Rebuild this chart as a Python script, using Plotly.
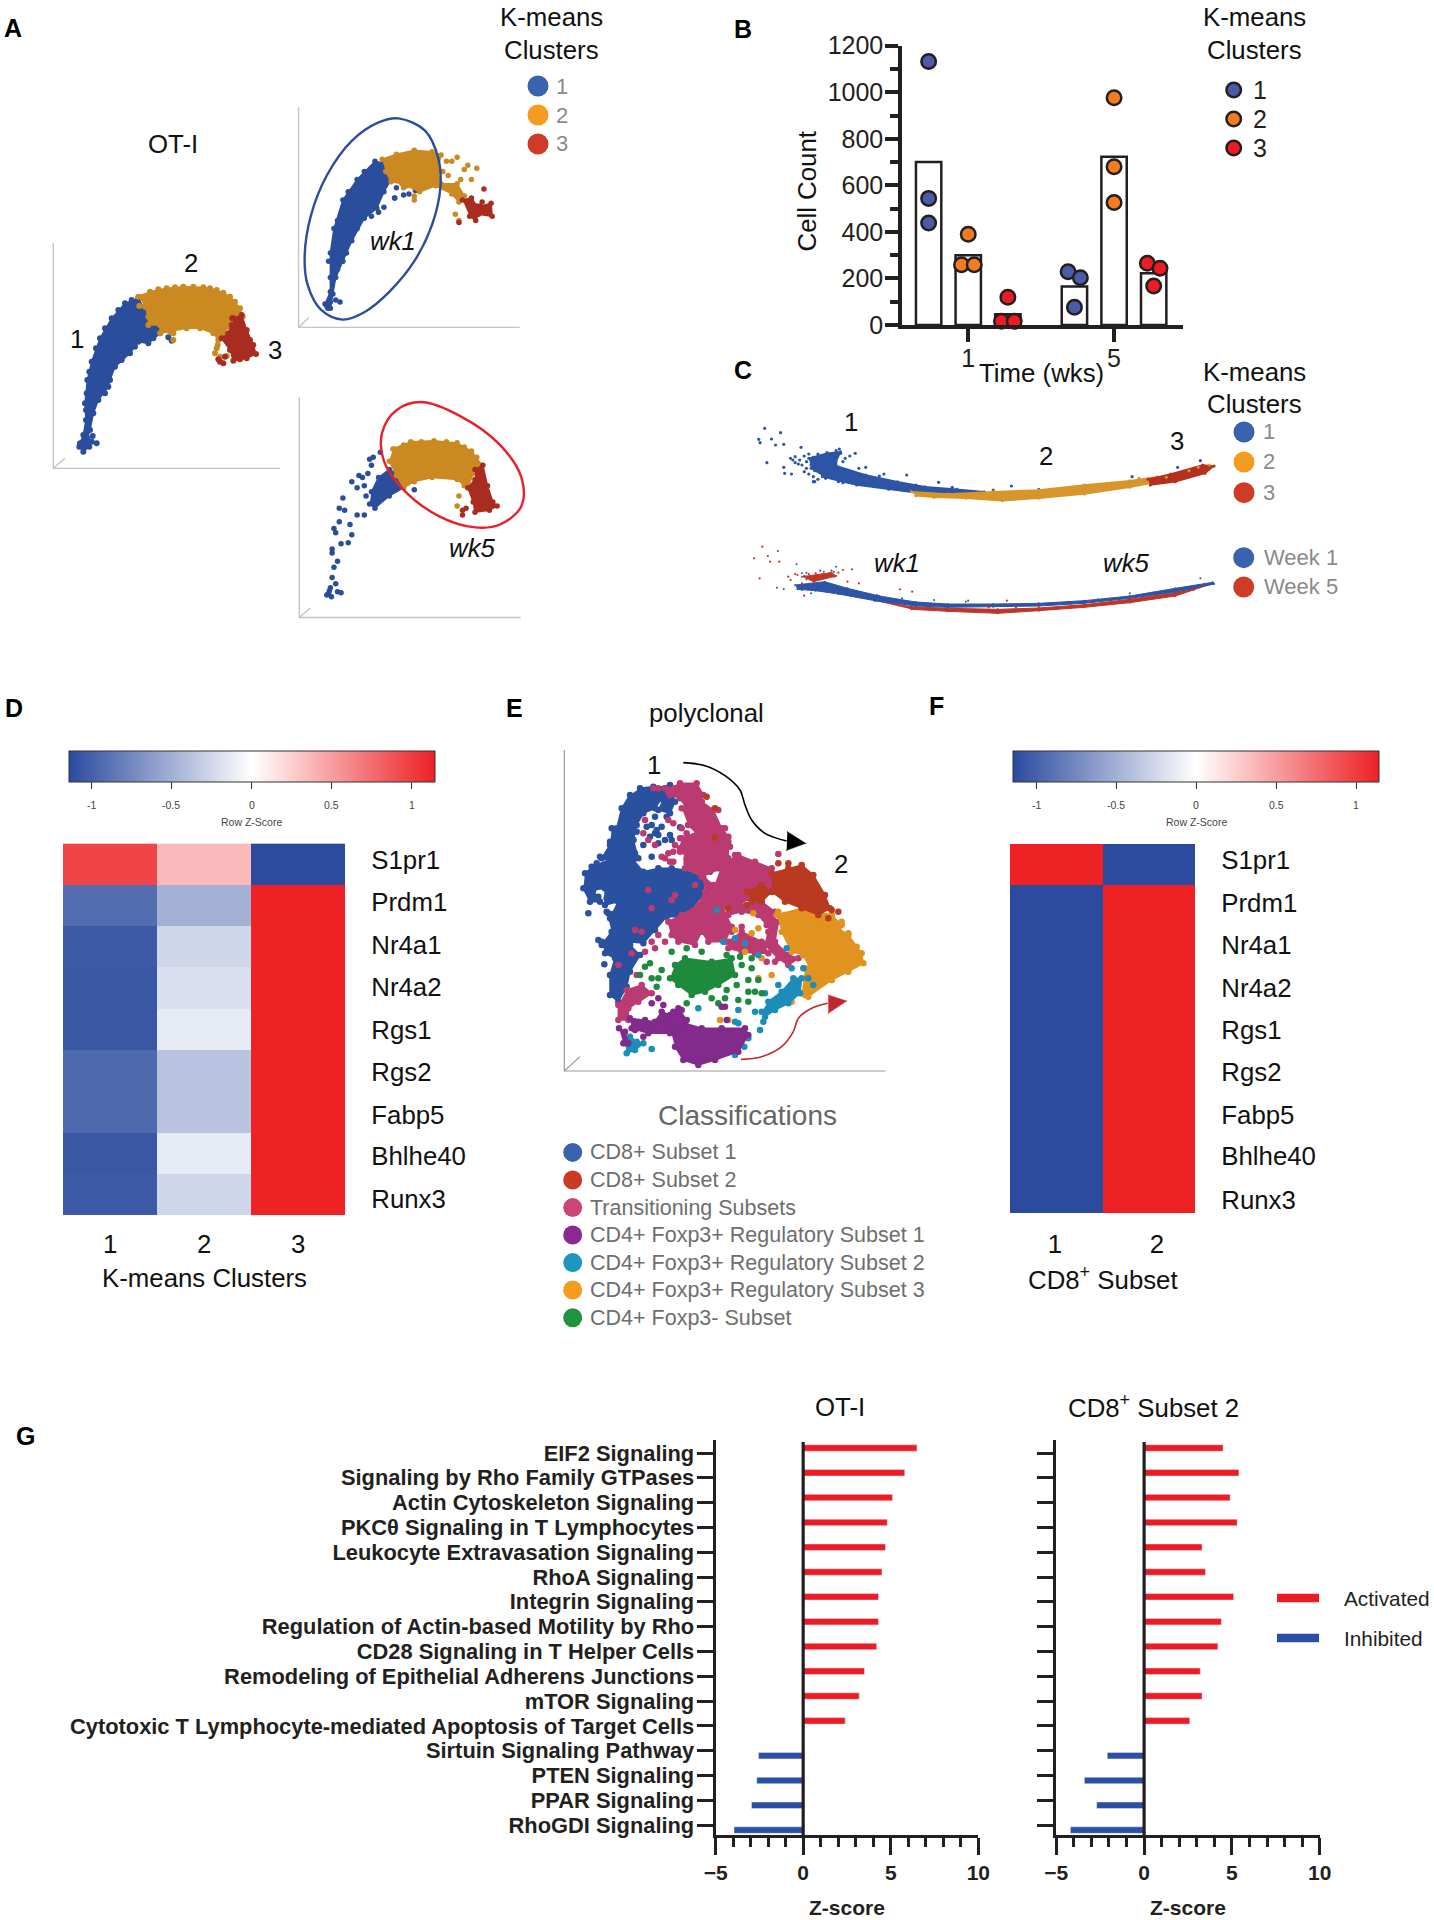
import plotly.graph_objects as go

W, H = 1434, 1920
FONT = "Liberation Sans"
INK = "#231F20"

# ---------- data: bar chart B ----------
B_BAR_X = [1, 2, 3, 4.68, 5.68, 6.68]
B_BAR_VAL = [700, 300, 46, 165, 723, 222]
B_C1_X = [1, 1, 1, 4.52, 4.83, 4.68]
B_C1_Y = [1132, 544, 438, 229, 203, 76]
B_C2_X = [2, 1.83, 2.15, 5.68, 5.68, 5.68]
B_C2_Y = [390, 259, 259, 976, 680, 526]
B_C3_X = [3, 2.84, 3.16, 6.52, 6.84, 6.68]
B_C3_Y = [119, 16, 16, 265, 244, 168]
B_TICK_POS = [2, 5.68]
B_TICK_TXT = ["1", "5"]

# ---------- data: heatmaps ----------
GENES = ["S1pr1", "Prdm1", "Nr4a1", "Nr4a2", "Rgs1", "Rgs2", "Fabp5", "Bhlhe40", "Runx3"]
D_LABEL_POS = [-0.10, 0.93, 1.96, 2.98, 4.01, 5.04, 6.07, 7.07, 8.10]
F_LABEL_POS = [-0.11, 0.93, 1.96, 3.00, 4.04, 5.07, 6.11, 7.12, 8.18]
D_COLS = [1, 2, 3]
D_COL_LABEL_POS = [1, 2, 3]
F_COLS = [1, 2]
F_COL_LABEL_POS = [0.986, 2.087]
D_Z = [[0.96, 0.36, -1.14],
       [-0.92, -0.49, 1.14],
       [-1.04, -0.26, 1.14],
       [-1.06, -0.205, 1.14],
       [-1.06, -0.135, 1.14],
       [-0.95, -0.38, 1.14],
       [-0.95, -0.38, 1.14],
       [-1.06, -0.135, 1.14],
       [-1.04, -0.26, 1.14]]
F_Z = [[1.14, -1.14]] + [[-1.14, 1.14] for _ in range(8)]
CB_TICKS = [-1, -0.5, 0, 0.5, 1]
CB_TEXT = ["-1", "-0.5", "0", "0.5", "1"]

# ---------- data: pathway bars G ----------
PATHWAYS = ["EIF2 Signaling", "Signaling by Rho Family GTPases", "Actin Cytoskeleton Signaling",
            "PKCθ Signaling in T Lymphocytes", "Leukocyte Extravasation Signaling", "RhoA Signaling",
            "Integrin Signaling", "Regulation of Actin-based Motility by Rho",
            "CD28 Signaling in T Helper Cells", "Remodeling of Epithelial Adherens Junctions",
            "mTOR Signaling", "Cytotoxic T Lymphocyte-mediated Apoptosis of Target Cells",
            "Sirtuin Signaling Pathway", "PTEN Signaling", "PPAR Signaling", "RhoGDI Signaling"]
OTI_ACT = [6.5, 5.8, 5.1, 4.8, 4.7, 4.5, 4.3, 4.3, 4.2, 3.5, 3.2, 2.4, None, None, None, None]
OTI_INH = [None] * 12 + [-2.55, -2.65, -2.95, -3.95]
CD8_ACT = [4.5, 5.4, 4.9, 5.3, 3.3, 3.5, 5.1, 4.4, 4.2, 3.2, 3.3, 2.6, None, None, None, None]
CD8_INH = [None] * 12 + [-2.1, -3.4, -2.7, -4.2]

# ---------- data: embedding A main (arbitrary embedding units) ----------
M_AXES = [[(10,40),(10,715),(690,715)], [(10,715),(45,685)]]
M_C1 = [(90,640),(100,615),(108,570),(105,520),(112,450),(125,395),(150,325),(185,265),(225,220),(265,205),(285,240),(295,265),(295,285),(330,285),(330,310),(295,340),(265,335),(240,370),(195,410),(180,450),(175,470),(145,510),(130,550),(120,600),(112,625),(118,650),(100,665),(88,650)]
M_C1_DOTS = [(128,618),(125,635),(140,640),(355,322),(365,332),(372,297),(310,325),(108,540),(110,490),(118,425),(138,355),(165,295),(205,240),(245,210),(165,490),(215,390),(255,350)]
M_C2 = [(265,200),(300,185),(350,175),(400,170),(460,172),(500,180),(540,200),(570,235),(578,260),(550,265),(535,290),(520,310),(505,330),(490,310),(450,295),(410,295),(360,305),(330,310),(330,285),(295,285),(295,260),(285,230)]
M_C2_DOTS = [(370,310),(370,330),(503,345),(495,370),(510,380),(530,378),(500,355),(278,200),(268,228),(325,178),(375,172),(430,170),(480,175),(520,188),(555,215)]
M_C3 = [(550,265),(575,255),(590,300),(610,345),(618,372),(590,385),(550,392),(540,360),(515,325),(535,310),(545,285)]
M_C3_DOTS = [(510,395),(520,400),(525,380),(505,388),(547,265),(600,330),(570,388)]

# ---------- data: embedding A, week panels ----------
A_AXES = [[(836, 263), (836, 802), (1455, 802)], [(836, 802), (865, 778)],
          [(838, 973), (838, 1513), (1458, 1513)], [(838, 1513), (868, 1490)]]
A2_RING = [(1115,290),(1190,320),(1228,390),(1233,460),(1210,550),(1160,640),(1090,715),(1020,765),(960,783),(900,760),(862,700),(853,630),(870,530),(915,430),(985,345),(1060,300),(1115,290)]
A2_C1 = [(918,755),(910,745),(925,715),(925,680),(925,620),(935,560),(960,490),(1000,440),(1050,395),(1075,400),(1095,440),(1075,470),(1055,510),(1020,535),(985,590),(960,640),(940,680),(932,720),(925,755)]
A2_C1_DOTS = [(940,735),(952,740),(1105,485),(1130,478),(1145,475),(1075,508),(1110,460),(1163,467),(1060,520),(915,750),(925,740),(1105,485),(1040,530),(1000,560),(970,620),(945,660),(920,640),(945,540),(975,470),(1020,420)]
A2_C2 = [(1070,390),(1110,378),(1160,368),(1210,372),(1235,380),(1225,420),(1235,450),(1280,450),(1300,480),(1285,495),(1265,475),(1220,455),(1175,470),(1125,450),(1095,445),(1080,420)]
A2_C2_DOTS = [(1250,395),(1265,395),(1280,385),(1310,405),(1335,412),(1300,415),(1320,440),(1275,525),(1285,540),(1160,490),(1140,455),(1240,420),(1255,430),(1290,440),(1205,440),(1185,455),(1130,460),(1160,480)]
A2_C3 = [(1295,490),(1320,485),(1335,505),(1345,505),(1375,498),(1378,530),(1340,525),(1332,540),(1315,530)]
A2_C3_DOTS = [(1355,463),(1285,545),(1350,495),(1370,515)]
A3_RING = [(1180,985),(1290,1020),(1400,1090),(1460,1170),(1460,1240),(1400,1285),(1330,1292),(1230,1265),(1130,1200),(1075,1130),(1070,1060),(1110,1005),(1180,985)]
A3_C1 = [(1040,1205),(1060,1170),(1090,1150),(1130,1170),(1130,1195),(1090,1215),(1050,1245),(1035,1235)]
A3_C1_DOTS = [(1035,1125),(1045,1120),(1040,1140),(1065,1108),(1005,1165),(985,1180),(1020,1190),(1025,1215),(960,1220),(950,1245),(965,1250),(1000,1262),(1020,1262),(980,1285),(950,1278),(935,1295),(940,1305),(985,1310),(975,1330),(955,1332),(930,1345),(930,1355),(945,1375),(935,1390),(930,1415),(925,1440),(920,1455),(945,1450),(955,1452),(940,1430),(915,1458),(922,1448),(928,1462),(1160,1200),(1015,1170),(1030,1160),(1000,1195)]
A3_C2 = [(1100,1100),(1150,1082),(1215,1080),(1280,1085),(1320,1105),(1350,1140),(1350,1165),(1325,1160),(1310,1195),(1280,1175),(1210,1170),(1160,1180),(1130,1195),(1110,1165),(1090,1130)]
A3_C2_DOTS = [(1105,1100),(1285,1215),(1280,1240),(1100,1125),(1300,1190),(1130,1090),(1180,1082),(1250,1082),(1300,1095),(1335,1120)]
A3_C3 = [(1330,1150),(1352,1140),(1365,1190),(1380,1230),(1392,1240),(1370,1250),(1330,1255),(1325,1230),(1310,1195),(1330,1175)]
A3_C3_DOTS = [(1295,1250),(1305,1245),(1295,1262)]

# ---------- data: embedding C ----------
C1_HEAD = [(195,325),(235,310),(265,305),(255,335),(260,375),(225,375),(200,355)]
C1_C1 = [(250,345),(320,375),(390,395),(450,410),(520,418),(580,425),(560,432),(500,435),(430,428),(370,418),(300,405),(260,392),(225,380),(215,345)]
C1_C1_DOTS = [(98,235),(133,248),(85,268),(113,267),(122,285),(140,283),(88,278),(103,338),(178,292),(140,352),(157,372),(142,370),(208,395),(320,352),(305,355),(410,375),(480,397),(360,372),(1005,352),(1055,332),(1040,355),(905,380),(640,408),(700,418),(600,420),
              (155,325),(165,320),(175,330),(185,318),(195,312),(205,322),(215,312),(225,318),(235,308),(245,315),(255,302),(265,310),(262,297),(285,318),(297,310),(275,325),(165,338),(180,345),(190,335),(200,345),(210,335),(225,330),(240,330),(255,325),(185,365),(195,372),(205,380),(215,388),(190,355),(208,362),(240,342),(270,335),(232,385),(260,395),(205,395),(350,378),(430,405),(510,412),(345,410),(270,398),(160,330),(172,342)]
C1_C2 = [(420,425),(500,432),(600,425),(700,420),(800,405),(900,392),(960,380),(975,392),(900,412),(800,432),(700,445),(620,452),(540,445),(470,442),(430,437)]
C1_C3 = [(940,388),(990,372),(1060,345),(1085,348),(1065,370),(1000,395),(945,405)]
C1_C2_DOTS = [(1030,362),(1050,352),(1075,345),(980,382),(850,400),(760,415),(680,440),(480,440),(820,425),(920,385)]
C2_RED_HEAD = [(180,680),(245,668),(255,678),(205,695)]
C2_BLUE = [(165,705),(230,695),(280,715),(350,738),(430,756),(500,762),(600,762),(700,760),(800,752),(900,738),(1000,715),(1082,697),(1085,702),(1000,726),(900,745),(800,760),(700,768),(600,770),(500,772),(430,768),(340,752),(260,732),(210,722),(170,718)]
C2_RED = [(340,752),(420,770),(500,775),(610,778),(700,774),(800,764),(900,748),(1000,728),(1083,700),(1040,720),(1000,738),(900,758),(800,772),(700,782),(610,790),(500,784),(420,778)]
C2_RED_DOTS = [(150,680),(170,675),(185,678),(210,670),(225,672),(240,670),(270,660),(290,658),(250,680),(200,690),(180,700),(155,690),(215,682),(235,680),(93,590),(127,603),(75,625),(105,618),(110,635),(130,635),(87,685),(185,737),(280,695),(305,700),(395,718),(422,725),(630,752),(545,752),(165,672),(195,672),(245,662),(260,668),(220,662),(190,688),(1010,722),(960,735),(905,742),(860,750),(810,755),(770,762),(700,768),(650,772),(590,772),(1060,705)]
C2_BLUE_DOTS = [(125,713),(140,717),(168,643),(190,668),(255,650),(1055,685),(830,748),(900,730),(540,755),(470,750),(765,755),(180,670),(228,665),(250,665),(345,735),(400,745),(170,710),(180,720),(200,730)]

# ---------- data: embedding E ----------
E_AXES = [[(28,15),(28,978),(992,978)], [(28,978),(75,935)]]
E_ARROW_BLACK = [(385,53),(450,62),(510,92),(555,135),(570,180),(590,225),(630,265),(695,288)]
E_HEAD_BLACK = [(697,260),(752,295),(695,316)]
E_ARROW_RED = [(558,943),(620,935),(680,905),(715,860),(730,820),(770,790),(818,775)]
E_HEAD_RED = [(820,750),(875,768),(820,805)]
E_BLUE_CORES = [
    [(255,130),(295,125),(320,160),(300,190),(265,205),(245,240),(235,285),(205,290),(185,250),(200,190),(225,150)],
    [(300,130),(345,120),(360,170),(345,205),(310,195),(325,165)],
    [(170,250),(235,285),(250,340),(175,350),(140,340),(165,300)],
    [(110,365),(175,340),(190,470),(150,480),(150,430)],
    [(155,500),(200,500),(225,600),(140,600),(170,560)],
    [(175,350),(235,345),(265,380),(310,370),(350,370),(390,375),(445,400),(445,450),(410,490),(370,515),(335,515),(300,555),(265,595),(225,590),(195,570),(165,520),(190,470),(175,430)],
    [(90,385),(125,355),(145,380),(150,430),(115,435),(135,470),(105,470),(85,430)],
    [(140,590),(175,575),(225,600),(255,630),(225,680),(215,725),(190,770),(165,750),(165,690),(180,640),(150,625)]]
E_BLUE_DOTS = [(100,505),(150,410),(160,340),(175,300),(135,335),(165,290),(290,240),(300,265),(330,285),(350,285),(290,335),(265,300),(215,310),(375,247),(420,333),(455,345),(490,370),(465,380),(148,658),(130,585),(160,505),(350,405),(225,310),(245,260),(305,255),(320,245),(190,320),(240,325),(410,160),(365,145),(130,455),(155,460),(300,215),(285,275),(310,270),(310,295),(345,270),(275,245),(335,215)]
E_PINK_CORES = [
    [(375,115),(425,115),(445,150),(430,180),(395,190),(375,160),(345,150),(330,130)],
    [(380,190),(440,170),(470,215),(450,280),(400,240)],
    [(400,190),(440,170),(475,195),(500,250),(520,275),(500,310),(460,320),(430,270),(400,240)],
    [(380,280),(430,260),(520,290),(520,340),(500,370),(440,395),(390,370),(395,340),(375,310)],
    [(500,360),(550,330),(600,350),(650,370),(670,400),(650,440),(610,440),(580,460),(555,480),(500,480),(475,430)],
    [(500,480),(555,480),(620,470),(660,500),(635,540),(610,510),(560,500),(520,510)],
    [(520,590),(560,560),(620,590),(640,625),(600,625),(560,620),(520,610)],
    [(440,390),(475,420),(500,480),(530,545),(510,590),(460,590),(440,560),(420,600),(370,590),(350,570),(340,530),(380,510),(430,480),(450,440)],
    [(640,500),(670,530),(660,590),(700,630),(730,640),(700,660),(670,640),(630,600),(640,560)],
    [(215,735),(260,720),(290,745),(250,770),(220,790),(220,825),(190,825),(190,780)]]
E_PINK_DOTS = [(490,195),(510,250),(525,305),(465,225),(380,250),(375,320),(395,345),(340,325),(320,335),(355,350),(265,265),(310,130),(410,285),(450,330),(480,330),(450,300),(430,300),(505,320),(540,330),(280,435),(290,490),(360,450),(260,560),(240,555),(290,590),(300,610),(230,625),(245,690),(190,660),(270,620),(330,590),(310,570),(350,465),(420,420),(430,375),(395,355),(410,365),(545,600),(570,610),(530,560),(560,590),(600,605),(660,650),(635,650),(560,545),(385,300),(405,330),(670,327),(295,130),(340,140),(270,225),(340,225),(355,235),(395,265),(375,280),(360,300),(355,320),(330,340),(280,285),(300,300),(345,350)]
E_RED_CORES = [
    [(650,385),(700,370),(740,360),(775,390),(810,450),(825,490),(790,510),(740,490),(690,470),(650,440)],
    [(575,440),(620,420),(650,440),(620,470),(590,470)]]
E_RED_DOTS = [(455,155),(480,190),(480,278),(670,355),(700,355),(520,490),(575,480),(830,495),(850,500),(820,520)]
E_ORANGE_CORES = [
    [(665,510),(740,490),(830,510),(860,540),(780,560),(745,630),(710,620),(680,560)],
    [(750,670),(830,705),(760,755),(740,745)],
    [(760,560),(800,540),(850,550),(880,570),(920,625),(925,655),(880,680),(830,705),(790,695),(765,670),(745,630)]]
E_ORANGE_DOTS = [(800,715),(770,735),(750,750),(720,530),(740,500),(690,510),(670,500),(700,540),(730,560),(740,600),(620,435),(595,505),(610,550),(590,565),(570,620),(620,640),(650,690),(610,700),(540,555),(495,825),(520,825),(860,530),(830,510),(710,770),(785,720),(880,565),(905,605),(770,545),(755,590)]
E_TEAL_CORES = [
    [(640,770),(680,740),(715,700),(740,700),(735,745),(700,775),(660,795),(630,815),(620,800)],
    [(210,895),(225,875),(245,890),(265,895),(240,915),(215,925)]]
E_TEAL_DOTS = [(760,700),(745,670),(710,670),(670,720),(630,745),(625,830),(600,800),(615,855),(580,880),(568,905),(540,930),(540,830),(550,795),(430,790),(425,935),(435,900),(460,915),(290,912),(485,495),(540,580),(570,595),(505,590),(610,630),(695,610),(550,835),(775,720)]
E_GREEN_CORE = [(360,660),(390,640),(470,650),(530,640),(540,690),(490,720),(450,740),(410,750),(370,720),(345,700)]
E_GREEN_DOTS = [(350,620),(395,610),(440,620),(285,655),(270,665),(255,690),(290,700),(320,675),(310,700),(305,725),(515,630),(555,635),(560,660),(590,640),(590,670),(610,705),(580,705),(545,720),(580,740),(600,740),(620,745),(515,735),(510,760),(470,760),(395,775),(550,765),(580,770),(490,775)]
E_PURPLE_CORES = [
    [(345,850),(390,835),(440,850),(500,850),(570,850),(580,870),(550,920),(480,945),(430,960),(385,945),(360,905)],
    [(225,820),(270,825),(300,830),(320,800),(345,810),(370,790),(395,825),(345,865),(280,865),(230,850)],
    [(192,850),(210,860),(220,895),(205,895)]]
E_PURPLE_DOTS = [(290,775),(310,760),(325,780),(355,800),(380,795),(500,785),(515,825),(240,855),(265,875),(510,785)]

C_BLUE = "#2A4E9C"
C_ORNG = "#CB8922"
C_DRED = "#A82D20"

fig = go.Figure()


def dom(px0, px1, py0, py1):
    return dict(domain=[px0 / W, px1 / W]), dict(domain=[1 - py1 / H, 1 - py0 / H])


def hidden(range_):
    return dict(range=range_, visible=False, showgrid=False, zeroline=False, fixedrange=True)


def axes(i, box, xr, yr):
    dx, dy = dom(*box)
    n = "" if i == 1 else str(i)
    fig.layout["xaxis" + n] = {**hidden(xr), **dx, "anchor": "y" + n}
    fig.layout["yaxis" + n] = {**hidden(yr), **dy, "anchor": "x" + n}


def poly(ref, pts, color, size=6, fill=True, mode=None, lw=1.5, spline=False):
    n = "" if ref == 1 else str(ref)
    xs = [p[0] for p in pts]
    ys = [p[1] for p in pts]
    fig.add_trace(go.Scatter(
        x=xs, y=ys, xaxis="x" + n, yaxis="y" + n,
        mode=mode or ("lines+markers" if fill else "markers"),
        fill="toself" if fill else None,
        fillcolor=color if fill else None,
        line=dict(color=color, width=lw, shape="spline" if spline else "linear"),
        marker=dict(color=color, size=size, line=dict(width=0)),
        showlegend=False, hoverinfo="skip"))


# ---- hidden embedding axes, ranges in embedding units
axes(1, (0, 560, 0, 640), [0, 1568], [1568, 0])
axes(3, (720, 1434, 350, 640), [0, 1568], [870, 0])
axes(5, (555, 915, 745, 1080), [0, 1080], [1005, 0])
axes(9, (50, 290, 230, 470), [0, 720], [720, 0])

# ---- A main
for seg in M_AXES:
    poly(9, seg, "#C4C4C4", fill=False, mode="lines", lw=1.4)
for pts, dots, col in [(M_C1, M_C1_DOTS, C_BLUE), (M_C2, M_C2_DOTS, C_ORNG), (M_C3, M_C3_DOTS, C_DRED)]:
    poly(9, pts, col, size=6)
    poly(9, dots, col, size=6, fill=False)

# ---- A week panels
for seg in A_AXES:
    poly(1, seg, "#C4C4C4", fill=False, mode="lines", lw=1.4)
for pts, dots, col, size in [
    (A2_C1, A2_C1_DOTS, C_BLUE, 5.5), (A2_C2, A2_C2_DOTS, C_ORNG, 5.5), (A2_C3, A2_C3_DOTS, C_DRED, 5.5),
    (A3_C1, A3_C1_DOTS, C_BLUE, 5.5), (A3_C2, A3_C2_DOTS, C_ORNG, 5.5), (A3_C3, A3_C3_DOTS, C_DRED, 5.5)]:
    poly(1, pts, col, size=size)
    poly(1, dots, col, size=size, fill=False)
poly(1, A2_RING, "#2A4E9C", fill=False, mode="lines", lw=2.4, spline=True)
poly(1, A3_RING, "#E8202A", fill=False, mode="lines", lw=2.4, spline=True)

# ---- B
bar_axis = dict(showline=True, linecolor=INK, linewidth=3.5, ticks="outside", tickcolor=INK, tickwidth=3.5,
                ticklen=13, showgrid=False, zeroline=False, fixedrange=True,
                tickfont=dict(family=FONT, size=25, color=INK))
dx, dy = dom(902, 1183, 45.7, 325)
fig.layout.xaxis2 = {**bar_axis, **dx, "anchor": "y2", "range": [0.328, 7.42], "tickmode": "array",
                     "tickvals": B_TICK_POS, "ticktext": B_TICK_TXT, "ticklabelstandoff": -5}
fig.layout.yaxis2 = {**bar_axis, **dy, "anchor": "x2", "range": [0, 1200], "tick0": 0, "dtick": 200,
                     "ticklabelstandoff": -3,
                     "minor": dict(dtick=100, ticks="outside", ticklen=8, tickwidth=3.5, tickcolor=INK)}
fig.add_trace(go.Bar(x=B_BAR_X, y=B_BAR_VAL, width=0.64, xaxis="x2", yaxis="y2",
                     marker=dict(color="white", line=dict(color=INK, width=2.5)),
                     showlegend=False, hoverinfo="skip"))
for xs, ys, col in [(B_C1_X, B_C1_Y, "#4B5BA8"), (B_C2_X, B_C2_Y, "#F47B20"), (B_C3_X, B_C3_Y, "#ED1C24")]:
    fig.add_trace(go.Scatter(x=xs, y=ys, xaxis="x2", yaxis="y2", mode="markers", cliponaxis=False,
                             marker=dict(color=col, size=14.5, line=dict(color=INK, width=2.5)),
                             showlegend=False, hoverinfo="skip"))

# ---- C
poly(3, C1_HEAD, "#2C55A5", size=3)
poly(3, C1_C1, "#2C55A5", size=3)
poly(3, C1_C1_DOTS, "#2C55A5", size=3.2, fill=False)
poly(3, C1_C2, "#D8952A", size=3)
poly(3, C1_C3, "#B5301F", size=3)
poly(3, C1_C2_DOTS, "#D8952A", size=3, fill=False)
poly(3, C2_RED, "#BF3526", size=2, lw=1)
poly(3, C2_BLUE, "#2C55A5", size=2, lw=1)
poly(3, C2_BLUE_DOTS, "#2C55A5", size=2, fill=False)
poly(3, C2_RED_HEAD, "#BF3526", size=2, lw=1)
poly(3, C2_RED_DOTS, "#BF3526", size=2.2, fill=False)

# ---- E
for seg in E_AXES:
    poly(5, seg, "#9A9A9A", fill=False, mode="lines", lw=1.2)
EC_BLUE, EC_PINK, EC_GRN, EC_PUR, EC_TEAL, EC_ORG, EC_RED = ("#2A50A0", "#BC3A72", "#1E8A3E", "#822B8C", "#1C8DB8", "#E0931F", "#B93A20")
ES = 6.5
for cores, dots, col in [(E_BLUE_CORES, E_BLUE_DOTS, EC_BLUE), (E_PINK_CORES, E_PINK_DOTS, EC_PINK),
                         (E_ORANGE_CORES, E_ORANGE_DOTS, EC_ORG), (E_RED_CORES, E_RED_DOTS, EC_RED),
                         (E_TEAL_CORES, E_TEAL_DOTS, EC_TEAL), ([E_GREEN_CORE], E_GREEN_DOTS, EC_GRN),
                         (E_PURPLE_CORES, E_PURPLE_DOTS, EC_PUR)]:
    for pts in cores:
        poly(5, pts, col, size=ES)
    poly(5, dots, col, size=ES, fill=False)
poly(5, E_ARROW_BLACK, "#000000", fill=False, mode="lines", lw=1.6, spline=True)
poly(5, E_HEAD_BLACK, "#000000", size=1, lw=0.5)
poly(5, E_ARROW_RED, "#C1272D", fill=False, mode="lines", lw=1.6, spline=True)
poly(5, E_HEAD_RED, "#C1272D", size=1, lw=0.5)

# ---- heatmaps D / F
HEAT = [[0, "#2B4A9E"], [0.5, "#FFFFFF"], [1, "#EE2024"]]
ZMAX = 1.143


def heat(i, box, z, cols, col_pos, label_pos, col_standoff, cb_box):
    n = str(i)
    dx, dy = dom(*box)
    fig.layout["xaxis" + n] = {**dx, "anchor": "y" + n, "range": [0.5, len(cols) + 0.5], "tickmode": "array",
                               "tickvals": col_pos, "ticktext": [str(c) for c in cols], "showgrid": False,
                               "zeroline": False, "ticks": "", "ticklabelstandoff": col_standoff, "showline": False,
                               "tickfont": dict(family=FONT, size=25.8, color="#111"), "fixedrange": True}
    fig.layout["yaxis" + n] = {**dy, "anchor": "x" + n, "side": "right", "range": [8.5, -0.5], "tickmode": "array",
                               "tickvals": label_pos, "ticktext": GENES, "showgrid": False, "zeroline": False,
                               "ticks": "", "ticklabelstandoff": 25, "showline": False,
                               "tickfont": dict(family=FONT, size=25.8, color="#111"), "fixedrange": True}
    fig.add_trace(go.Heatmap(
        z=z, x=cols, y=list(range(9)), xaxis="x" + n, yaxis="y" + n, colorscale=HEAT, zmin=-ZMAX, zmax=ZMAX,
        hoverinfo="skip",
        colorbar=dict(orientation="h", lenmode="pixels", len=cb_box[1] - cb_box[0],
                      thicknessmode="pixels", thickness=31,
                      x=(cb_box[0] + cb_box[1]) / 2 / W, xanchor="center", y=1 - 750.5 / H, yanchor="top",
                      xpad=0, ypad=0, outlinecolor="#333", outlinewidth=1, tickmode="array",
                      tickvals=CB_TICKS, showticklabels=False,
                      ticks="outside", ticklen=7, tickwidth=1, tickcolor="#333")))


D_CB = (68.3, 434.7)
F_CB = (1013.3, 1379.3)
heat(4, (63, 345.3, 843.4, 1215), D_Z, D_COLS, D_COL_LABEL_POS, D_LABEL_POS, 11, D_CB)
heat(6, (1010, 1195.3, 844, 1213), F_Z, F_COLS, F_COL_LABEL_POS, F_LABEL_POS, 13, F_CB)

# ---- G
g_x = dict(range=[-5, 10], tick0=-5, dtick=5, showline=True, linecolor=INK, linewidth=3, ticks="outside",
           ticklen=17, tickwidth=3, tickcolor=INK, showgrid=False, zeroline=False, fixedrange=True,
           tickfont=dict(family=FONT, size=21, color=INK, weight="bold"),
           minor=dict(dtick=1, ticks="outside", ticklen=9, tickwidth=3, tickcolor=INK))
g_y = dict(type="category", categoryorder="array", categoryarray=PATHWAYS, range=[15.4, -0.524], showline=True,
           linecolor=INK, linewidth=3, ticks="outside", ticklen=16, tickwidth=3, tickcolor=INK,
           showgrid=False, zeroline=False, fixedrange=True, tickmode="array", tickvals=PATHWAYS, ticktext=PATHWAYS)
dx, dy = dom(715.6, 978.3, 1440, 1835)
fig.layout.xaxis7 = {**g_x, **dx, "anchor": "y7"}
fig.layout.yaxis7 = {**g_y, **dy, "anchor": "x7", "ticklabelstandoff": -2,
                     "tickfont": dict(family=FONT, size=21.85, color=INK, weight="bold")}
dx, dy = dom(1056.3, 1319.7, 1440, 1835)
fig.layout.xaxis8 = {**g_x, **dx, "anchor": "y8"}
fig.layout.yaxis8 = {**g_y, **dy, "anchor": "x8", "showticklabels": False}
for ref, act, inh in [(7, OTI_ACT, OTI_INH), (8, CD8_ACT, CD8_INH)]:
    fig.add_trace(go.Bar(y=PATHWAYS, x=act, orientation="h", xaxis=f"x{ref}", yaxis=f"y{ref}",
                         marker=dict(color="#ED1C24"), showlegend=False, hoverinfo="skip"))
    fig.add_trace(go.Bar(y=PATHWAYS, x=inh, orientation="h", xaxis=f"x{ref}", yaxis=f"y{ref}",
                         marker=dict(color="#2B4FA3"), showlegend=False, hoverinfo="skip"))

# ---- page-level shapes and text
shapes = []
for ref in (7, 8):
    shapes.append(dict(type="line", xref=f"x{ref}", yref=f"y{ref} domain", x0=0, x1=0, y0=0, y1=0.995,
                       line=dict(color=INK, width=3.2), layer="above"))


def dot(px, py, d, color, outline=False):
    shapes.append(dict(type="circle", xref="paper", yref="paper", x0=(px - d / 2) / W, x1=(px + d / 2) / W,
                       y0=1 - (py + d / 2) / H, y1=1 - (py - d / 2) / H, fillcolor=color,
                       line=dict(width=2.5, color=INK) if outline else dict(width=0)))


def swatch(px0, px1, py, t, color):
    shapes.append(dict(type="rect", xref="paper", yref="paper", x0=px0 / W, x1=px1 / W,
                       y0=1 - (py + t / 2) / H, y1=1 - (py - t / 2) / H, fillcolor=color, line=dict(width=0)))


ann = []


def txt(px, py, s, size=25.8, color="#111", anchor="center", bold=False, italic=False, angle=0):
    ann.append(dict(xref="paper", yref="paper", x=px / W, y=1 - py / H, text=s, showarrow=False, xanchor=anchor,
                    yanchor="middle", textangle=angle,
                    font=dict(family=FONT, size=size, color=color, weight="bold" if bold else "normal",
                              style="italic" if italic else "normal"), align="center"))


for s, x, y in [("A", 13, 28), ("B", 743, 29), ("C", 743, 370), ("D", 14, 708), ("E", 514, 708), ("F", 937, 706), ("G", 25.5, 1436)]:
    txt(x, y, s, size=25, color="#000", bold=True)

# A texts
txt(173, 144, "OT-I")
txt(77, 339, "1"); txt(191, 263, "2"); txt(275, 350, "3")
txt(393, 241, "wk1", italic=True); txt(472, 548, "wk5", italic=True)
txt(551, 17, "K-means"); txt(551, 50, "Clusters")
LEG_COLS = ["#3A62AD", "#F39C1F", "#CE3B26"]
for y, c, s in zip([86, 115, 144], LEG_COLS, "123"):
    dot(538, y, 21, c)
    txt(562, y, s, size=22, color="#8A8A8A")

# B texts
txt(806.5, 192, "Cell Count", angle=-90)
txt(1041, 373, "Time (wks)")
txt(1254.6, 17, "K-means"); txt(1254.6, 50, "Clusters")
for y, c, s in zip([90, 119, 148], ["#4B5BA8", "#F47B20", "#ED1C24"], "123"):
    dot(1233.7, y, 14.5, c, outline=True)
    txt(1260, y, s, size=25, color=INK)

# C texts
txt(850.7, 422, "1"); txt(1046, 456, "2"); txt(1177, 441, "3")
txt(897, 563, "wk1", italic=True); txt(1126, 563, "wk5", italic=True)
txt(1254.6, 372, "K-means"); txt(1254.6, 404, "Clusters")
for y, c, s in zip([432, 462, 492.7], LEG_COLS, "123"):
    dot(1244, y, 21, c)
    txt(1269, y, s, size=22, color="#8A8A8A")
for y, c, s in zip([557.7, 587], ["#3A62AD", "#CE3B26"], ["Week 1", "Week 5"]):
    dot(1243.7, y, 21, c)
    txt(1262, y, s, size=22, color="#8A8A8A", anchor="left")

# D / F texts
for cb in (D_CB, F_CB):
    for v, s in zip(CB_TICKS, CB_TEXT):
        txt(cb[0] + (v + ZMAX) / (2 * ZMAX) * (cb[1] - cb[0]), 804.6, s, size=10.5, color="#444")
    txt((cb[0] + cb[1]) / 2, 822, "Row Z-Score", size=10.5, color="#444")
txt(204, 1278, "K-means Clusters")
txt(1102.7, 1278, "CD8<sup>+</sup> Subset")

# E texts
txt(706.7, 712.5, "polyclonal")
txt(654, 765, "1"); txt(841, 863.5, "2")
txt(747.7, 1115.7, "Classifications", size=28, color="#666")
E_NAMES = ["CD8+ Subset 1", "CD8+ Subset 2", "Transitioning Subsets", "CD4+ Foxp3+ Regulatory Subset 1",
           "CD4+ Foxp3+ Regulatory Subset 2", "CD4+ Foxp3+ Regulatory Subset 3", "CD4+ Foxp3- Subset"]
E_COLS = ["#3A62AD", "#C93B22", "#CC4478", "#8A2A90", "#1F95C0", "#F39C1F", "#1E9440"]
for y, c, s in zip([1152.4, 1180, 1207.6, 1235, 1262.6, 1290, 1317.7], E_COLS, E_NAMES):
    dot(572.7, y, 19, c)
    txt(588, y, s, size=21.5, color="#6E6E6E", anchor="left")

# G texts
txt(840, 1407, "OT-I"); txt(1153, 1406, "CD8<sup>+</sup> Subset 2")
txt(847, 1907, "Z-score", size=21, color=INK, bold=True)
txt(1188, 1907, "Z-score", size=21, color=INK, bold=True)
swatch(1277, 1319, 1598, 8.7, "#ED1C24")
swatch(1277, 1319, 1638, 8.7, "#2B4FA3")
txt(1342, 1598, "Activated", size=20.8, color=INK, anchor="left")
txt(1342, 1638, "Inhibited", size=20.8, color=INK, anchor="left")

fig.update_layout(width=W, height=H, autosize=False,
                  margin=dict(l=0, r=0, t=0, b=0, pad=0, autoexpand=False),
                  paper_bgcolor="white", plot_bgcolor="rgba(0,0,0,0)", barmode="group",
                  bargap=0.194, bargroupgap=0.35, showlegend=False, shapes=shapes, annotations=ann,
                  font=dict(family=FONT))
fig.write_html("out.html", post_script="document.body.style.margin='0';", config={"displayModeBar": False})
